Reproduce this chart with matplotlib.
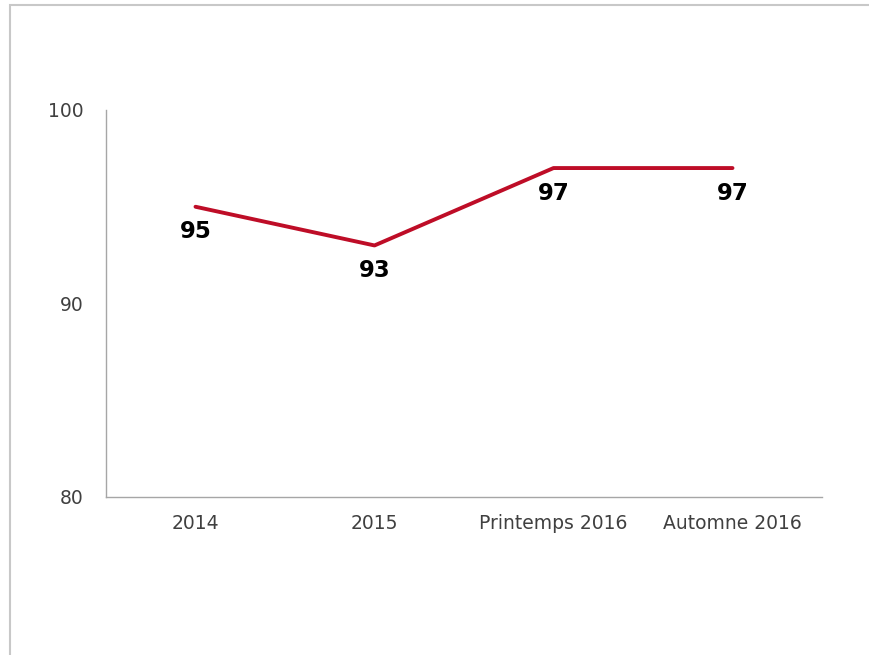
import matplotlib
matplotlib.use("Agg")
import matplotlib.pyplot as plt
from matplotlib.patches import Rectangle

periods = ["2014", "2015", "Printemps 2016", "Automne 2016"]
scores = [95, 93, 97, 97]
y_ticks = [80, 90, 100]

LINE_RED = "#BE0D27"
AXIS_GREY = "#a6a6a6"
TEXT_GREY = "#404040"

plt.rcParams["font.family"] = "DejaVu Sans"

fig = plt.figure(figsize=(8.7, 6.55), dpi=100)
ax = fig.add_axes([106 / 870, 1 - 497 / 655, 716 / 870, 387 / 655])

x = list(range(len(periods)))
ax.plot(x, scores, color=LINE_RED, linewidth=2.8, solid_capstyle="round")

# value labels under each point
for xi, v in zip(x, scores):
    ax.annotate(f"{v}", (xi, v), xytext=(0, -18), textcoords="offset points",
                ha="center", va="center", fontsize=16.5, fontweight="bold",
                color="black")

ax.set_xlim(-0.5, len(periods) - 0.5)
ax.set_ylim(80, 100)
ax.set_xticks(x)
ax.set_xticklabels(periods)
ax.set_yticks(y_ticks)

for side in ["top", "right"]:
    ax.spines[side].set_visible(False)
for side in ["left", "bottom"]:
    ax.spines[side].set_color(AXIS_GREY)
    ax.spines[side].set_linewidth(1)

ax.tick_params(axis="both", length=0, labelsize=13.5, colors=TEXT_GREY)
ax.tick_params(axis="x", pad=12)
ax.tick_params(axis="y", pad=16)

# light frame around the chart area
fig.patches.append(Rectangle((10 / 870, -0.1), 1.2, 1 - 5 / 655 + 0.1,
                             transform=fig.transFigure, fill=False,
                             edgecolor="#c8c8c8", linewidth=1.5))

fig.savefig("out.png", dpi=100)
